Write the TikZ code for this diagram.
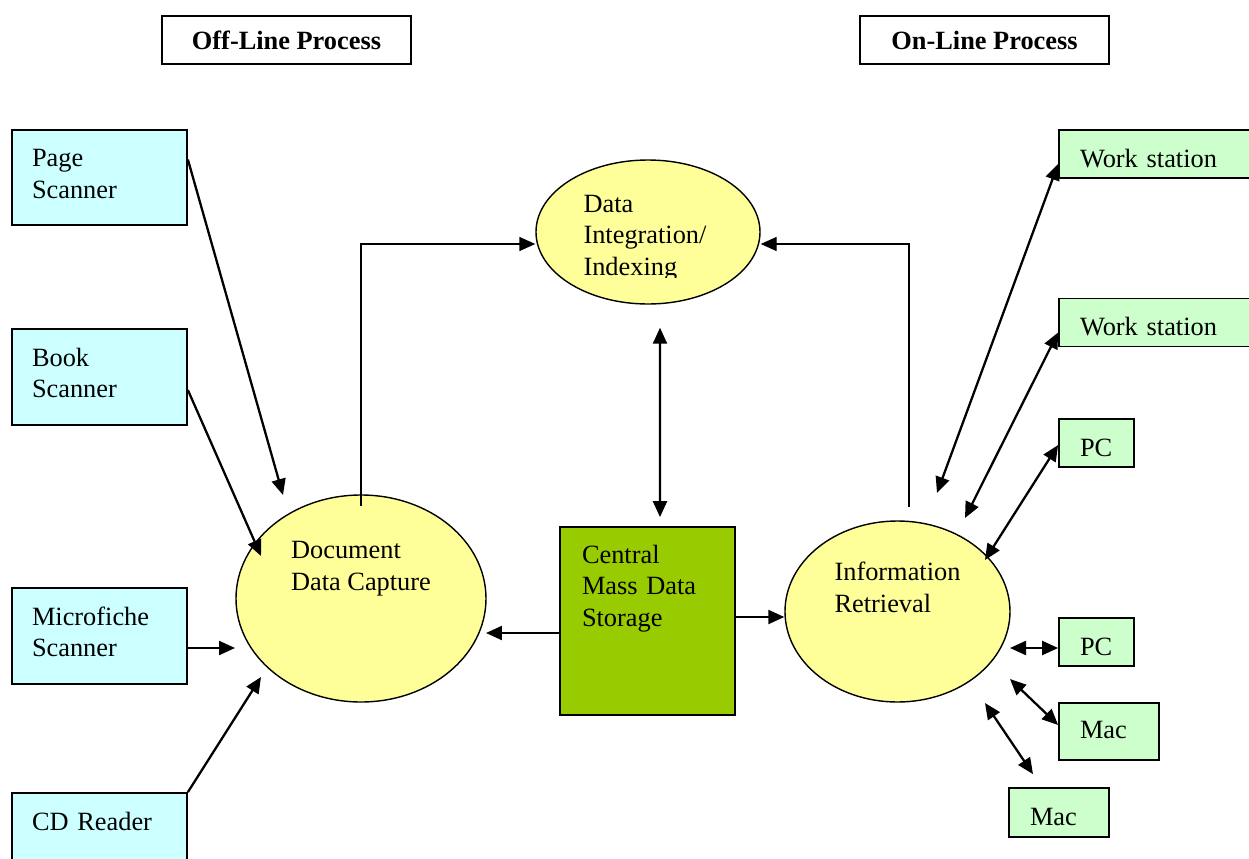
\documentclass[tikz,border=0pt]{standalone}
\usepackage{fontspec}
\setmainfont{Liberation Serif}
\usetikzlibrary{shapes.geometric, arrows.meta, calc}
\newcommand{\pxu}{0.02cm}
\newcommand{\diagfont}{\fontsize{15}{18}\selectfont}
\definecolor{scancol}{HTML}{CCFFFF}
\definecolor{devcol}{HTML}{CCFFCC}
\definecolor{proccol}{HTML}{FFFF99}
\definecolor{storecol}{HTML}{99CC00}
\tikzset{
  >={Triangle[length=3.2mm, width=2.8mm]},
  headbox/.style={draw, line width=0.8pt, font=\diagfont\bfseries,
    minimum width=249*\pxu, minimum height=48*\pxu},
  srcbox/.style={draw, fill=scancol, line width=1pt, align=left,
    text width=135*\pxu, inner xsep=20*\pxu, minimum height=#1*\pxu,
    text height=18*\pxu, text depth=40*\pxu},
  srcbox/.default=96,
  devbox/.style={draw, fill=devcol, line width=1pt, align=left,
    text width=#1*\pxu, inner xsep=21*\pxu, minimum height=48*\pxu,
    text height=26*\pxu, text depth=0pt},
  procell/.style={draw, ellipse, fill=proccol, line width=0.8pt,
    align=left, inner sep=0pt, text height=18*\pxu},
  link/.style={line width=1.3pt, ->},
  duplex/.style={line width=1.3pt, <->},
  elbow/.style={line width=0.8pt, ->}
}

\begin{document}
\begin{tikzpicture}[x=\pxu, y=-\pxu, font=\diagfont]
  \useasboundingbox (0,0) rectangle (1249,859);

  % headings
  \node[headbox] (offline) at (286.5,40) {Off-Line Process};
  \node[headbox] (online)  at (984.5,40) {On-Line Process};

  % capture devices
  \node[srcbox=95] (page)  at (99.5,177.5) {Page\\Scanner};
  \node[srcbox]    (book)  at (99.5,377)   {Book\\Scanner};
  \node[srcbox]    (micro) at (99.5,636)   {Microfiche\\Scanner};
  \node[srcbox]    (cd)    at (99.5,841)   {CD Reader};

  % processes and storage
  \node[procell, minimum width=250*\pxu, minimum height=207*\pxu,
    text depth=35*\pxu] (capture) at (361,598.5) {Document\\Data Capture};
  \node[procell, minimum width=224*\pxu, minimum height=144*\pxu]
    (integ) at (648,232) {};
  \begin{scope}
    \clip (530,150) rectangle (770,277);
    \node[align=left, inner sep=0pt] (integtext) at (645,238)
      {Data\\Integration/\\Indexing};
  \end{scope}
  \node[draw, fill=storecol, line width=1pt, align=left, text width=131*\pxu,
    inner xsep=22*\pxu, minimum height=188*\pxu,
    text height=18*\pxu, text depth=134*\pxu]
    (store) at (647.5,621) {Central\\Mass Data\\Storage};
  \node[procell, minimum width=225*\pxu, minimum height=181*\pxu,
    text depth=17*\pxu] (retrieve) at (897.5,611.5) {Information\\Retrieval};

  % terminals
  \node[devbox=180] (ws1)  at (1170,154)    {Work station};
  \node[devbox=180] (ws2)  at (1170,322.5)  {Work station};
  \node[devbox=33]  (pc1)  at (1096.5,443)  {PC};
  \node[devbox=33]  (pc2)  at (1096.5,642)  {PC};
  \node[devbox=58, minimum height=57*\pxu, text height=14*\pxu]
    (mac1) at (1109,731.5) {Mac};
  \node[devbox=58, minimum height=49*\pxu] (mac2) at (1059,812.5) {Mac};

  % loose arrow ends
  \coordinate (capNW) at (283,495);
  \coordinate (capW1) at (261,556);
  \coordinate (capW2) at (235,648);
  \coordinate (capSW) at (261,677);
  \coordinate (capR)  at (486,633);
  \coordinate (storeout) at ($(store.east)+(0,-4)$);
  \coordinate (retN1) at (937,493);
  \coordinate (retN2) at (965,518);
  \coordinate (retNE) at (985,560);
  \coordinate (retE)  at (1010,648);
  \coordinate (retSE) at (1010,679);
  \coordinate (retS)  at (985,703);

  % off-line side
  \draw[link] ($(page.east)+(0,-18)$) -- (capNW);
  \draw[link] ($(book.east)+(0,13)$) -- (capW1);
  \draw[link] ($(micro.east)+(0,12)$) -- (capW2);
  \draw[link] (cd.north east) -- (capSW);
  \draw[elbow] ($(capture.north)+(0,12)$) |- ($(integ.west)+(0,12)$);
  \draw[elbow] ($(retrieve.north)+(11.5,-13)$) |- ($(integ.east)+(0,12)$);
  \draw[duplex] ($(integ.south)+(12,23)$) -- ($(store.north)+(12.5,-9)$);
  \draw[link] ($(store.west)+(0,12)$) -- (capR);
  \draw[link] (storeout) -- (storeout -| retrieve.west);

  % on-line side
  \draw[duplex] ($(ws1.west)+(0,10)$) -- (retN1);
  \draw[duplex] ($(ws2.west)+(0,10)$) -- (retN2);
  \draw[duplex] ($(pc1.west)+(0,2)$) -- (retNE);
  \draw[duplex] ($(pc2.west)+(0,6)$) -- (retE);
  \draw[duplex] ($(mac1.west)+(0,-6.5)$) -- (retSE);
  \draw[duplex] ($(mac2.north)+(-26,-13)$) -- (retS);
\end{tikzpicture}
\end{document}
